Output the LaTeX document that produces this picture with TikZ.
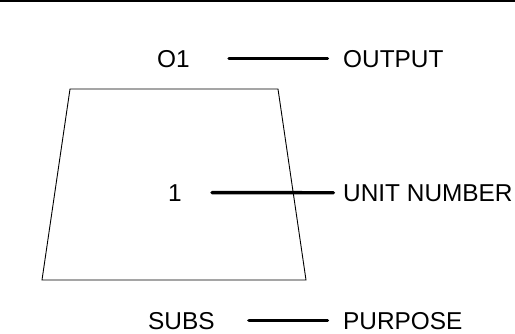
\documentclass[tikz,border=0pt]{standalone}
\usepackage{fontspec}
\setmainfont{Liberation Sans}
\usepackage{tikz}
\usetikzlibrary{positioning}

\begin{document}
\begin{tikzpicture}[x=1pt,y=-1pt]
\tikzset{word/.style = {inner sep=0pt,anchor=base west,font=\fontsize{24.4}{28}\selectfont}}
\tikzset{wire/.style = {line width=3.4pt,line cap=round}}
\useasboundingbox (0,0) rectangle (515,333);
\draw[line width=2.2pt] (0,1) -- (515,1);
\draw[line width=0.9pt] (70,89) -- (278,89) -- (306,280) -- (42,280) -- cycle;
\node[word] (o1) at (157,67) {O1};
\node[word] (output) at (343,67) {OUTPUT};
\node[word] (unit) at (168,201) {1};
\node[word] (unitnumber) at (343,201) {UNIT NUMBER};
\node[word] (subs) at (148,329) {SUBS};
\node[word] (purpose) at (343,329) {PURPOSE};
\draw[wire] ([xshift=39pt]o1.east) -- ([xshift=-15.5pt]output.west);
\draw[wire] ([xshift=30pt]unit.east) -- ([xshift=-9.5pt]unitnumber.west);
\draw[wire] ([xshift=34pt]subs.east) -- ([xshift=-15.5pt]purpose.west);
\end{tikzpicture}
\end{document}
